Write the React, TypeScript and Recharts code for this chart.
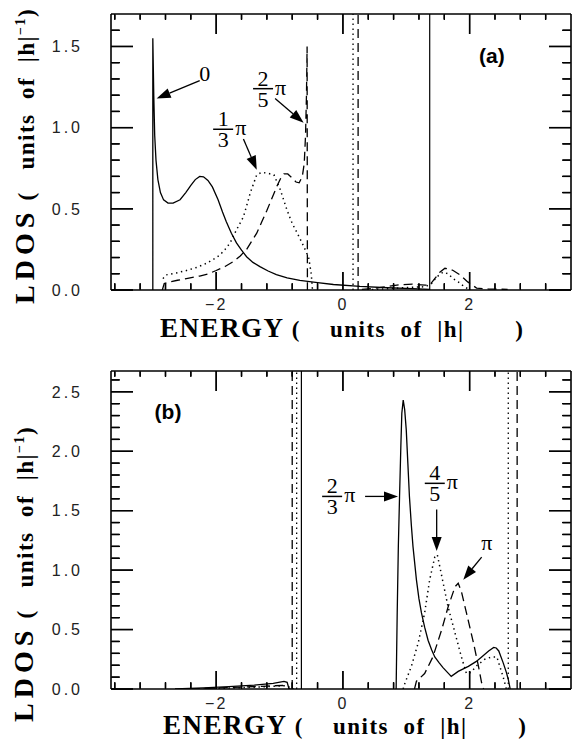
import { LineChart, Line, XAxis, YAxis, ReferenceLine, ReferenceDot } from 'recharts';

type Pt = { x: number; y: number | null };

// x axis (shared)
const xDomain: [number, number] = [-3.66, 3.6];
const xMajor = [-2, 0, 2];
const xMinor = [-3.6, -3.2, -2.8, -2.4, -1.6, -1.2, -0.8, -0.4, 0.4, 0.8, 1.2, 1.6, 2.4, 2.8, 3.2];

// panel (a)
const yMajorA = [0, 0.5, 1.0, 1.5];
const yMinorA = [0.1, 0.2, 0.3, 0.4, 0.6, 0.7, 0.8, 0.9, 1.1, 1.2, 1.3, 1.4, 1.6];

const solidA: Pt[] = [
  { x: -3.0, y: 0 }, { x: -3.0, y: 1.55 }, { x: -2.985, y: 1.2 }, { x: -2.97, y: 0.95 },
  { x: -2.95, y: 0.8 }, { x: -2.92, y: 0.68 }, { x: -2.88, y: 0.6 }, { x: -2.83, y: 0.555 },
  { x: -2.76, y: 0.535 }, { x: -2.68, y: 0.535 }, { x: -2.57, y: 0.556 }, { x: -2.48, y: 0.6 },
  { x: -2.4, y: 0.645 }, { x: -2.33, y: 0.68 }, { x: -2.26, y: 0.7 }, { x: -2.2, y: 0.697 },
  { x: -2.13, y: 0.675 }, { x: -2.06, y: 0.635 }, { x: -1.97, y: 0.556 }, { x: -1.9, y: 0.48 },
  { x: -1.84, y: 0.42 }, { x: -1.76, y: 0.35 }, { x: -1.68, y: 0.29 }, { x: -1.6, y: 0.245 },
  { x: -1.52, y: 0.205 }, { x: -1.42, y: 0.17 }, { x: -1.31, y: 0.144 }, { x: -1.18, y: 0.117 },
  { x: -1.05, y: 0.095 }, { x: -0.88, y: 0.075 }, { x: -0.68, y: 0.059 }, { x: -0.4, y: 0.045 },
  { x: -0.15, y: 0.034 }, { x: 0.27, y: 0.022 }, { x: 0.7, y: 0.014 }, { x: 1.1, y: 0.008 },
  { x: 1.37, y: 0.004 },
];

const dashedA: Pt[] = [
  { x: -2.85, y: 0 }, { x: -2.82, y: 0.04 }, { x: -2.72, y: 0.05 }, { x: -2.61, y: 0.06 },
  { x: -2.45, y: 0.072 }, { x: -2.26, y: 0.086 }, { x: -2.12, y: 0.1 }, { x: -2.0, y: 0.12 },
  { x: -1.86, y: 0.145 }, { x: -1.73, y: 0.175 }, { x: -1.62, y: 0.21 }, { x: -1.52, y: 0.25 },
  { x: -1.44, y: 0.3 }, { x: -1.36, y: 0.35 }, { x: -1.28, y: 0.42 }, { x: -1.2, y: 0.49 },
  { x: -1.12, y: 0.565 }, { x: -1.04, y: 0.64 }, { x: -0.98, y: 0.69 }, { x: -0.93, y: 0.715 },
  { x: -0.87, y: 0.715 }, { x: -0.8, y: 0.69 }, { x: -0.74, y: 0.665 }, { x: -0.69, y: 0.66 },
  { x: -0.64, y: 0.7 }, { x: -0.61, y: 0.78 }, { x: -0.59, y: 0.95 }, { x: -0.575, y: 1.2 },
  { x: -0.565, y: 1.5 }, { x: -0.56, y: 0 }, { x: 0.3, y: null },
  { x: 0.3, y: 0.004 }, { x: 0.5, y: 0.01 }, { x: 0.7, y: 0.022 }, { x: 0.9, y: 0.032 },
  { x: 1.1, y: 0.036 }, { x: 1.3, y: 0.03 }, { x: 1.37, y: 0.03 }, { x: 1.45, y: 0.07 },
  { x: 1.53, y: 0.11 }, { x: 1.61, y: 0.134 }, { x: 1.68, y: 0.13 }, { x: 1.74, y: 0.12 },
  { x: 1.85, y: 0.093 }, { x: 1.97, y: 0.05 }, { x: 2.11, y: 0.012 }, { x: 2.3, y: 0.006 },
  { x: 2.6, y: 0.004 },
];

const dottedA: Pt[] = [
  { x: -2.84, y: 0.07 }, { x: -2.79, y: 0.093 }, { x: -2.63, y: 0.105 }, { x: -2.47, y: 0.12 },
  { x: -2.3, y: 0.14 }, { x: -2.15, y: 0.165 }, { x: -2.04, y: 0.19 }, { x: -1.94, y: 0.216 },
  { x: -1.86, y: 0.25 }, { x: -1.78, y: 0.29 }, { x: -1.68, y: 0.37 }, { x: -1.57, y: 0.45 },
  { x: -1.46, y: 0.6 }, { x: -1.36, y: 0.71 }, { x: -1.28, y: 0.725 }, { x: -1.2, y: 0.72 },
  { x: -1.09, y: 0.71 }, { x: -0.99, y: 0.62 }, { x: -0.88, y: 0.49 }, { x: -0.8, y: 0.41 },
  { x: -0.72, y: 0.35 }, { x: -0.62, y: 0.27 }, { x: -0.54, y: 0.2 }, { x: -0.5, y: 0.1 },
  { x: -0.48, y: 0 }, { x: 0.3, y: null },
  { x: 0.3, y: 0 }, { x: 0.7, y: 0.008 }, { x: 1.0, y: 0.015 }, { x: 1.3, y: 0.02 },
  { x: 1.4, y: 0.04 }, { x: 1.48, y: 0.08 }, { x: 1.58, y: 0.11 }, { x: 1.66, y: 0.1 },
  { x: 1.74, y: 0.07 }, { x: 1.82, y: 0.05 }, { x: 1.9, y: 0.025 }, { x: 2.0, y: 0 },
];

const solidEdgesA = [1.37];
const dottedEdgesA = [0.16];
const dashedEdgesA = [0.24];

// panel (b)
const yMajorB = [0, 0.5, 1.0, 1.5, 2.0, 2.5];
const yMinorB = [0.1, 0.2, 0.3, 0.4, 0.6, 0.7, 0.8, 0.9, 1.1, 1.2, 1.3, 1.4, 1.6, 1.7, 1.8, 1.9, 2.1, 2.2, 2.3, 2.4, 2.6];

const solidB: Pt[] = [
  { x: -2.65, y: 0 }, { x: -2.2, y: 0.01 }, { x: -1.8, y: 0.02 }, { x: -1.4, y: 0.033 },
  { x: -1.1, y: 0.048 }, { x: -0.93, y: 0.064 }, { x: -0.88, y: 0.056 }, { x: -0.85, y: 0 },
  { x: 0, y: null },
  { x: 0.84, y: 0 }, { x: 0.857, y: 0.64 }, { x: 0.875, y: 1.2 }, { x: 0.894, y: 1.62 },
  { x: 0.915, y: 2.05 }, { x: 0.93, y: 2.32 }, { x: 0.952, y: 2.43 }, { x: 0.975, y: 2.35 },
  { x: 1.0, y: 2.18 }, { x: 1.025, y: 1.9 }, { x: 1.05, y: 1.62 }, { x: 1.08, y: 1.38 },
  { x: 1.106, y: 1.2 }, { x: 1.16, y: 0.92 }, { x: 1.2, y: 0.76 }, { x: 1.24, y: 0.64 },
  { x: 1.29, y: 0.52 }, { x: 1.344, y: 0.41 }, { x: 1.4, y: 0.33 }, { x: 1.45, y: 0.27 },
  { x: 1.52, y: 0.22 }, { x: 1.58, y: 0.18 }, { x: 1.65, y: 0.14 }, { x: 1.71, y: 0.106 },
  { x: 1.82, y: 0.148 }, { x: 1.98, y: 0.19 }, { x: 2.1, y: 0.23 }, { x: 2.19, y: 0.27 },
  { x: 2.3, y: 0.32 }, { x: 2.38, y: 0.35 }, { x: 2.42, y: 0.345 }, { x: 2.46, y: 0.32 },
  { x: 2.53, y: 0.22 }, { x: 2.58, y: 0.14 }, { x: 2.61, y: 0.08 }, { x: 2.64, y: 0 },
];

const dottedB: Pt[] = [
  { x: -2.2, y: 0 }, { x: -1.8, y: 0.008 }, { x: -1.4, y: 0.015 }, { x: -1.1, y: 0.022 },
  { x: -0.9, y: 0.028 }, { x: -0.78, y: 0 }, { x: 0, y: null },
  { x: 0.95, y: 0 }, { x: 0.97, y: 0.036 }, { x: 1.08, y: 0.19 }, { x: 1.19, y: 0.39 },
  { x: 1.29, y: 0.64 }, { x: 1.37, y: 0.92 }, { x: 1.45, y: 1.11 }, { x: 1.49, y: 1.13 },
  { x: 1.56, y: 0.95 }, { x: 1.66, y: 0.69 }, { x: 1.77, y: 0.47 }, { x: 1.87, y: 0.27 },
  { x: 1.95, y: 0.13 }, { x: 2.02, y: 0.14 }, { x: 2.12, y: 0.2 }, { x: 2.24, y: 0.25 },
  { x: 2.35, y: 0.27 }, { x: 2.43, y: 0.27 }, { x: 2.53, y: 0.1 }, { x: 2.58, y: 0 },
];

const dashedB: Pt[] = [
  { x: -2.4, y: 0 }, { x: -2.0, y: 0.008 }, { x: -1.6, y: 0.016 }, { x: -1.2, y: 0.025 },
  { x: -0.95, y: 0.03 }, { x: -0.83, y: 0 }, { x: 0, y: null },
  { x: 1.13, y: 0 }, { x: 1.16, y: 0.064 }, { x: 1.29, y: 0.13 }, { x: 1.42, y: 0.27 },
  { x: 1.56, y: 0.5 }, { x: 1.66, y: 0.69 }, { x: 1.77, y: 0.86 }, { x: 1.82, y: 0.89 },
  { x: 1.87, y: 0.82 }, { x: 1.95, y: 0.64 }, { x: 2.06, y: 0.39 }, { x: 2.14, y: 0.19 },
  { x: 2.19, y: 0.05 }, { x: 2.22, y: 0 },
];

const solidEdgesB = [-0.655];
const dottedEdgesB = [-0.73, 2.61];
const dashedEdgesB = [-0.8, 2.75];

// annotations (data coordinates)
const fractionsA = [
  { num: '2', den: '5', x: -1.26, y: 1.24 },
  { num: '1', den: '3', x: -1.89, y: 0.99 },
];
const wordsA = [
  { text: '0', x: -2.18, y: 1.33, bold: false },
  { text: '(a)', x: 2.35, y: 1.44, bold: true },
];
const arrowsA = [
  { from: [-2.26, 1.29], to: [-2.94, 1.18] },
  { from: [-1.57, 0.93], to: [-1.36, 0.74] },
  { from: [-1.07, 1.18], to: [-0.62, 1.03] },
];

const fractionsB = [
  { num: '2', den: '3', x: -0.17, y: 1.62 },
  { num: '4', den: '5', x: 1.45, y: 1.73 },
];
const wordsB = [
  { text: 'π', x: 2.27, y: 1.23, bold: false },
  { text: '(b)', x: -2.76, y: 2.33, bold: true },
];
const arrowsB = [
  { from: [0.35, 1.62], to: [0.87, 1.62] },
  { from: [1.48, 1.51], to: [1.48, 1.16] },
  { from: [2.19, 1.11], to: [1.9, 0.92] },
];

const SERIF = "'Liberation Serif', 'Times New Roman', serif";
const SANS = "'Liberation Sans', Arial, sans-serif";
const DASH = '9 5';
const DOT = '1.4 3.6';

function Arrow(props: any) {
  const { x1, y1, x2, y2 } = props;
  const dx = x2 - x1;
  const dy = y2 - y1;
  const len = Math.hypot(dx, dy) || 1;
  const ux = dx / len;
  const uy = dy / len;
  const hl = 14;
  const hw = 5;
  const bx = x2 - ux * hl;
  const by = y2 - uy * hl;
  return (
    <g>
      <line x1={x1} y1={y1} x2={bx} y2={by} stroke="#000" strokeWidth={1.3} />
      <polygon
        points={`${x2},${y2} ${bx - uy * hw},${by + ux * hw} ${bx + uy * hw},${by - ux * hw}`}
        fill="#000"
      />
    </g>
  );
}

// inward tick marks at both ends of a full-span segment
function tickPair(lenA: number, lenB: number) {
  return (props: any) => {
    const { x1, y1, x2, y2 } = props;
    const dx = x2 - x1;
    const dy = y2 - y1;
    const len = Math.hypot(dx, dy) || 1;
    const ux = dx / len;
    const uy = dy / len;
    return (
      <g>
        <line x1={x1} y1={y1} x2={x1 + ux * lenA} y2={y1 + uy * lenA} stroke="#000" strokeWidth={1.4} />
        <line x1={x2} y1={y2} x2={x2 - ux * lenB} y2={y2 - uy * lenB} stroke="#000" strokeWidth={1.4} />
      </g>
    );
  };
}

function fractionShape(num: string, den: string) {
  return (props: any) => {
    const { cx, cy } = props;
    return (
      <g fontFamily={SERIF} fontSize={22} fill="#000">
        <text x={cx} y={cy - 3} textAnchor="middle">{num}</text>
        <line x1={cx - 10} x2={cx + 10} y1={cy} y2={cy} stroke="#000" strokeWidth={1.5} />
        <text x={cx} y={cy + 18} textAnchor="middle">{den}</text>
        <text x={cx + 12} y={cy + 6} textAnchor="start">π</text>
      </g>
    );
  };
}

function wordShape(text: string, bold: boolean) {
  return (props: any) => {
    const { cx, cy } = props;
    return (
      <text
        x={cx}
        y={cy + 7}
        textAnchor="middle"
        fontFamily={bold ? SANS : SERIF}
        fontWeight={bold ? 700 : 400}
        fontSize={bold ? 21 : 22}
        fill="#000"
      >
        {text}
      </text>
    );
  };
}

function XTickLabel(props: any) {
  const { x, y, payload } = props;
  const v = payload.value as number;
  const s = v < 0 ? `\u2212${Math.abs(v)}` : `${v}`;
  return (
    <text x={x} y={y} dy="0.71em" textAnchor="middle" fontFamily={SANS} fontSize={16}
      letterSpacing={2} fill="#222">
      {s}
    </text>
  );
}

function YTickLabel(props: any) {
  const { x, y, payload } = props;
  return (
    <text x={x} y={y} dy="0.36em" textAnchor="end" fontFamily={SANS} fontSize={16}
      letterSpacing={3} fill="#222">
      {(payload.value as number).toFixed(1)}
    </text>
  );
}

const NoTick = () => <g />;
const tickLineStyle = { stroke: '#000', strokeWidth: 1.4 };

type PanelProps = {
  height: number;
  margin: { top: number; right: number; bottom: number; left: number };
  yMax: number;
  yMajor: number[];
  yMinor: number[];
  solid: Pt[];
  dashed: Pt[];
  dotted: Pt[];
  solidEdges: number[];
  dottedEdges: number[];
  dashedEdges: number[];
  fractions: { num: string; den: string; x: number; y: number }[];
  words: { text: string; x: number; y: number; bold: boolean }[];
  arrows: { from: number[]; to: number[] }[];
};

function Panel(p: PanelProps) {
  const seriesProps = {
    xAxisId: 'x',
    yAxisId: 'y',
    dataKey: 'y',
    stroke: '#000',
    strokeWidth: 1.3,
    dot: false,
    activeDot: false,
    isAnimationActive: false,
    type: 'linear' as const,
  };
  const ref = { xAxisId: 'x', yAxisId: 'y' };
  const [x0, x1] = xDomain;
  const yDomain: [number, number] = [0, p.yMax];
  const xTickAxis = {
    type: 'number' as const,
    dataKey: 'x',
    domain: xDomain,
    interval: 0,
    mirror: true,
    stroke: '#000',
    axisLine: false,
    tickLine: tickLineStyle,
    tick: NoTick,
    height: 1,
    allowDataOverflow: true,
  };
  const yTickAxis = {
    type: 'number' as const,
    dataKey: 'y',
    domain: yDomain,
    interval: 0,
    mirror: true,
    stroke: '#000',
    axisLine: false,
    tickLine: tickLineStyle,
    tick: NoTick,
    width: 1,
    allowDataOverflow: true,
  };
  return (
    <LineChart width={572} height={p.height} margin={p.margin}>
      <XAxis
        xAxisId="x"
        type="number"
        dataKey="x"
        domain={xDomain}
        ticks={xMajor}
        interval={0}
        orientation="bottom"
        stroke="#000"
        axisLine={{ stroke: '#000', strokeWidth: 1.6 }}
        tickLine={false}
        tickSize={0}
        tickMargin={9}
        height={30}
        tick={XTickLabel}
        allowDataOverflow
      />
      <YAxis
        yAxisId="y"
        type="number"
        domain={yDomain}
        ticks={p.yMajor}
        interval={0}
        orientation="left"
        stroke="#000"
        axisLine={{ stroke: '#000', strokeWidth: 1.6 }}
        tickLine={false}
        tickSize={0}
        tickMargin={28}
        width={111}
        tick={YTickLabel}
        allowDataOverflow
      />

      {/* inward tick marks as mirrored axes */}
      <XAxis xAxisId="bM" {...xTickAxis} orientation="bottom" ticks={xMajor} tickSize={18} />
      <XAxis xAxisId="bm" {...xTickAxis} orientation="bottom" ticks={xMinor} tickSize={6} />
      <XAxis xAxisId="tM" {...xTickAxis} orientation="top" ticks={xMajor} tickSize={20} />
      <XAxis xAxisId="tm" {...xTickAxis} orientation="top" ticks={xMinor} tickSize={5} />
      <YAxis yAxisId="lM" {...yTickAxis} orientation="left" ticks={p.yMajor} tickSize={22} />
      <YAxis yAxisId="lm" {...yTickAxis} orientation="left" ticks={p.yMinor} tickSize={8} />
      <YAxis yAxisId="rM" {...yTickAxis} orientation="right" ticks={p.yMajor} tickSize={22} />
      <YAxis yAxisId="rm" {...yTickAxis} orientation="right" ticks={p.yMinor} tickSize={8} />

      {/* frame: top and right */}
      <ReferenceLine {...ref} y={p.yMax} stroke="#000" strokeWidth={1.6} />
      <ReferenceLine {...ref} x={x1} stroke="#000" strokeWidth={1.6} />

      {p.solidEdges.map((v) => (
        <ReferenceLine key={`s${v}`} {...ref} x={v} stroke="#000" strokeWidth={1.2} />
      ))}
      {p.dottedEdges.map((v) => (
        <ReferenceLine key={`o${v}`} {...ref} x={v} stroke="#000" strokeWidth={1.3} strokeDasharray={DOT} />
      ))}
      {p.dashedEdges.map((v) => (
        <ReferenceLine key={`d${v}`} {...ref} x={v} stroke="#000" strokeWidth={1.3} strokeDasharray={DASH} />
      ))}

      <Line {...seriesProps} data={p.solid} />
      <Line {...seriesProps} data={p.dashed} strokeDasharray={DASH} />
      <Line {...seriesProps} data={p.dotted} strokeDasharray={DOT} strokeWidth={1.5} />

      {/* inward ticks (reference segments) */}
      {xMajor.map((v) => (
        <ReferenceLine key={`xM${v}`} {...ref} ifOverflow="visible"
          segment={[{ x: v, y: 0 }, { x: v, y: p.yMax }]} shape={tickPair(18, 20)} />
      ))}
      {xMinor.map((v) => (
        <ReferenceLine key={`xm${v}`} {...ref} ifOverflow="visible"
          segment={[{ x: v, y: 0 }, { x: v, y: p.yMax }]} shape={tickPair(6, 5)} />
      ))}
      {p.yMajor.map((v) => (
        <ReferenceLine key={`yM${v}`} {...ref} ifOverflow="visible"
          segment={[{ x: x0, y: v }, { x: x1, y: v }]} shape={tickPair(22, 22)} />
      ))}
      {p.yMinor.map((v) => (
        <ReferenceLine key={`ym${v}`} {...ref} ifOverflow="visible"
          segment={[{ x: x0, y: v }, { x: x1, y: v }]} shape={tickPair(8, 8)} />
      ))}

      {p.arrows.map((a, i) => (
        <ReferenceLine
          key={`a${i}`}
          {...ref}
          segment={[{ x: a.from[0], y: a.from[1] }, { x: a.to[0], y: a.to[1] }]}
          shape={Arrow}
        />
      ))}
      {p.fractions.map((f, i) => (
        <ReferenceDot key={`f${i}`} {...ref} x={f.x} y={f.y} r={1} shape={fractionShape(f.num, f.den)} />
      ))}
      {p.words.map((w, i) => (
        <ReferenceDot key={`w${i}`} {...ref} x={w.x} y={w.y} r={1} shape={wordShape(w.text, w.bold)} />
      ))}
    </LineChart>
  );
}

const titleFont: React.CSSProperties = {
  position: 'absolute',
  fontFamily: SERIF,
  fontWeight: 700,
  fontSize: 23,
  letterSpacing: 1.5,
  whiteSpace: 'pre',
  lineHeight: '30px',
  height: 30,
  color: '#000',
};

function XTitle({ left, centerY }: { left: number; centerY: number }) {
  return (
    <div style={{ ...titleFont, left, top: centerY - 15 }}>
      <span style={{ fontSize: 27 }}>ENERGY</span>
      {' (    units  of  |h|       )'}
    </div>
  );
}

function YTitle({ centerX, bottomY }: { centerX: number; bottomY: number }) {
  return (
    <div
      style={{
        ...titleFont,
        left: centerX - 15,
        top: bottomY,
        transform: 'rotate(-90deg)',
        transformOrigin: '0 0',
      }}
    >
      <span style={{ fontSize: 28, letterSpacing: 5 }}>LDOS</span>
      {' (   units  of  |h|'}
      <sup style={{ fontSize: 14, lineHeight: 0 }}>{'\u22121'}</sup>
      {')'}
    </div>
  );
}

export default function App() {
  return (
    <div style={{ position: 'absolute', left: 0, top: 0, width: 572, height: 747, background: '#fff', overflow: 'hidden' }}>
      <div style={{ position: 'absolute', left: 0, top: 0 }}>
        <Panel
          height={345}
          margin={{ top: 14, right: 1, bottom: 25, left: 0 }}
          yMax={1.7}
          yMajor={yMajorA}
          yMinor={yMinorA}
          solid={solidA}
          dashed={dashedA}
          dotted={dottedA}
          solidEdges={solidEdgesA}
          dottedEdges={dottedEdgesA}
          dashedEdges={dashedEdgesA}
          fractions={fractionsA}
          words={wordsA}
          arrows={arrowsA}
        />
      </div>
      <div style={{ position: 'absolute', left: 0, top: 345 }}>
        <Panel
          height={402}
          margin={{ top: 26, right: 1, bottom: 28, left: 0 }}
          yMax={2.675}
          yMajor={yMajorB}
          yMinor={yMinorB}
          solid={solidB}
          dashed={dashedB}
          dotted={dottedB}
          solidEdges={solidEdgesB}
          dottedEdges={dottedEdgesB}
          dashedEdges={dashedEdgesB}
          fractions={fractionsB}
          words={wordsB}
          arrows={arrowsB}
        />
      </div>
      <XTitle left={160} centerY={328} />
      <XTitle left={163} centerY={725} />
      <YTitle centerX={25} bottomY={304} />
      <YTitle centerX={24} bottomY={722} />
    </div>
  );
}
